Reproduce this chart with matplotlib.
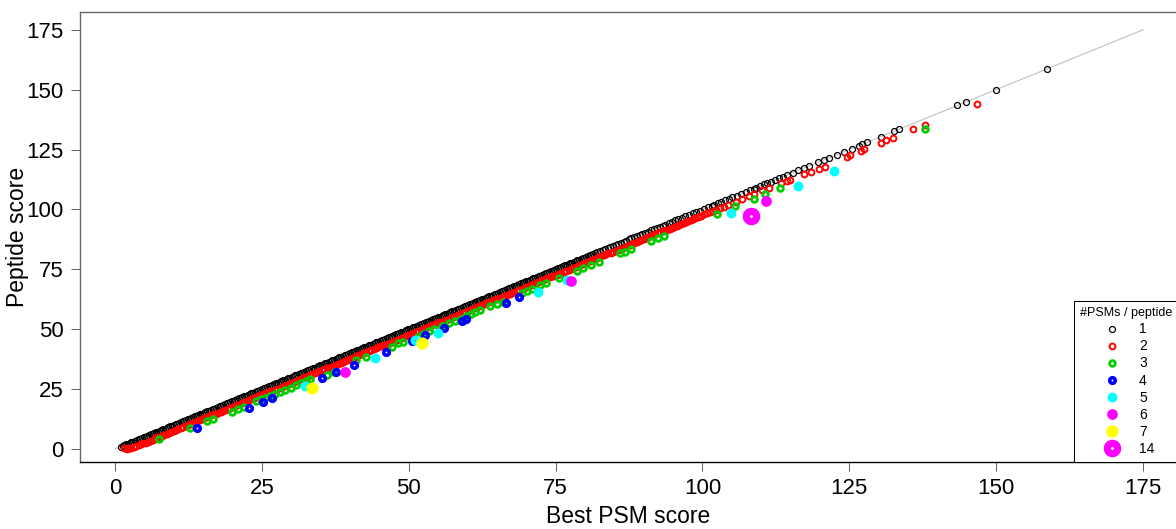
import matplotlib
matplotlib.use('Agg')
import matplotlib.pyplot as plt
from matplotlib.lines import Line2D

plt.rcParams['font.family'] = ['Liberation Sans', 'DejaVu Sans']

# peptides with a single PSM: peptide score is the best PSM score
psm1 = [
    1.0, 1.3, 1.6, 1.9, 2.2, 2.5, 2.8, 3.1, 3.4, 3.7,
    4.0, 4.3, 4.6, 4.9, 5.2, 5.5, 5.8, 6.1, 6.4, 6.7,
    7.0, 7.3, 7.6, 7.9, 8.2, 8.5, 8.8, 9.1, 9.4, 9.7,
    10.0, 10.3, 10.6, 10.9, 11.2, 11.5, 11.8, 12.1, 12.4, 12.7,
    13.0, 13.3, 13.6, 13.9, 14.2, 14.5, 14.8, 15.1, 15.4, 15.7,
    16.0, 16.3, 16.6, 16.9, 17.2, 17.5, 17.8, 18.1, 18.4, 18.7,
    19.0, 19.3, 19.6, 19.9, 20.2, 20.5, 20.8, 21.1, 21.4, 21.7,
    22.0, 22.3, 22.6, 22.9, 23.2, 23.5, 23.8, 24.1, 24.4, 24.7,
    25.0, 25.3, 25.6, 25.9, 26.2, 26.5, 26.8, 27.1, 27.4, 27.7,
    28.0, 28.3, 28.6, 28.9, 29.2, 29.5, 29.8, 30.1, 30.4, 30.7,
    31.0, 31.3, 31.6, 31.9, 32.2, 32.5, 32.8, 33.1, 33.4, 33.7,
    34.0, 34.3, 34.6, 34.9, 35.2, 35.5, 35.8, 36.1, 36.4, 36.7,
    37.0, 37.3, 37.6, 37.9, 38.2, 38.5, 38.8, 39.1, 39.4, 39.7,
    40.0, 40.3, 40.6, 40.9, 41.2, 41.5, 41.8, 42.1, 42.4, 42.7,
    43.0, 43.3, 43.6, 43.9, 44.2, 44.5, 44.8, 45.1, 45.4, 45.7,
    46.0, 46.3, 46.6, 46.9, 47.2, 47.5, 47.8, 48.1, 48.4, 48.7,
    49.0, 49.3, 49.6, 49.9, 50.2, 50.5, 50.8, 51.1, 51.4, 51.7,
    52.0, 52.3, 52.6, 52.9, 53.2, 53.5, 53.8, 54.1, 54.4, 54.7,
    55.0, 55.3, 55.6, 55.9, 56.2, 56.5, 56.8, 57.1, 57.4, 57.7,
    58.0, 58.3, 58.6, 58.9, 59.2, 59.5, 59.8, 60.1, 60.4, 60.7,
    61.0, 61.3, 61.6, 61.9, 62.2, 62.5, 62.8, 63.1, 63.4, 63.7,
    64.0, 64.3, 64.6, 64.9, 65.2, 65.5, 65.8, 66.1, 66.4, 66.7,
    67.0, 67.3, 67.6, 67.9, 68.2, 68.5, 68.8, 69.1, 69.4, 69.7,
    70.0, 70.3, 70.6, 70.9, 71.2, 71.5, 71.8, 72.1, 72.4, 72.7,
    73.0, 73.3, 73.6, 73.9, 74.2, 74.5, 74.8, 75.1, 75.4, 75.7,
    76.0, 76.3, 76.6, 76.9, 77.2, 77.5, 77.8, 78.1, 78.4, 78.7,
    79.0, 79.3, 79.6, 79.9, 80.2, 80.5, 80.8, 81.1, 81.4, 81.7,
    82.1, 82.5, 83.0, 83.4, 83.9, 84.3, 84.8, 85.2, 85.7, 86.1,
    86.6, 87.0, 87.5, 87.9, 88.4, 88.8, 89.3, 89.7, 90.2, 90.7,
    91.2, 91.7, 92.2, 92.7, 93.2, 93.7, 94.3, 94.8, 95.4, 95.9,
    96.5, 97.1, 97.7, 98.3, 98.9, 99.5, 100.2, 100.9, 101.6, 102.0,
    102.6, 103.2, 103.8, 104.5, 105.1, 105.8, 106.6, 107.4, 108.1, 108.7,
    109.1, 109.8, 110.4, 111.0, 111.6, 112.3, 113.1, 113.7, 114.4, 115.4,
    116.3, 117.3, 118.2, 119.6, 120.7, 121.5, 122.9, 124.1, 125.4, 126.6,
    127.1, 128.0, 130.4, 132.6, 133.5, 143.4, 144.9, 149.9, 158.6,
]

psm2_x = [
    1.6, 2.0, 2.4, 2.8, 3.2, 3.6, 4.0, 4.4, 4.8, 5.2, 5.6, 6.0, 6.4, 6.8,
    7.2, 7.6, 8.0, 8.4, 8.8, 9.2, 9.6, 10.0, 10.4, 10.8,
    11.2, 11.6, 12.0, 12.4, 12.8, 13.2, 13.6, 14.0, 14.4, 14.8,
    15.2, 15.6, 16.0, 16.4, 16.8, 17.2, 17.6, 18.0, 18.4, 18.8,
    19.2, 19.6, 20.0, 20.4, 20.8, 21.2, 21.6, 22.0, 22.4, 22.8,
    23.2, 23.6, 24.0, 24.4, 24.8, 25.2, 25.6, 26.0, 26.4, 26.8,
    27.2, 27.6, 28.0, 28.4, 28.8, 29.2, 29.6, 30.0, 30.4, 30.8,
    31.2, 31.6, 32.0, 32.4, 32.8, 33.2, 33.6, 34.0, 34.4, 34.8,
    35.2, 35.6, 36.0, 36.4, 36.8, 37.2, 37.6, 38.0, 38.4, 38.8,
    39.2, 39.6, 40.0, 40.4, 40.8, 41.2, 41.6, 42.0, 42.4, 42.8,
    43.2, 43.6, 44.0, 44.4, 44.8, 45.2, 45.6, 46.0, 46.4, 46.8,
    47.2, 47.6, 48.0, 48.4, 48.8, 49.2, 49.6, 50.0, 50.4, 50.8,
    51.2, 51.6, 52.0, 52.4, 52.8, 53.2, 53.6, 54.0, 54.4, 54.8,
    55.2, 55.6, 56.0, 56.4, 56.8, 57.2, 57.6, 58.0, 58.4, 58.8,
    59.2, 59.6, 60.0, 60.4, 60.8, 61.2, 61.6, 62.0, 62.4, 62.8,
    63.2, 63.6, 64.0, 64.4, 64.8, 65.2, 65.6, 66.0, 66.4, 66.8,
    67.2, 67.6, 68.0, 68.4, 68.8, 69.2, 69.6, 70.0, 70.4, 70.8,
    71.2, 71.6, 72.0, 72.4, 72.8, 73.2, 73.6, 74.0, 74.4, 74.8,
    75.2, 75.6, 76.0, 76.4, 76.8, 77.2, 77.6, 78.0, 78.4, 78.8,
    79.2, 79.6, 80.0, 80.4, 80.8, 81.2, 81.6, 82.0, 82.4, 82.8,
    83.2, 83.6, 84.0, 84.4, 84.8, 85.2, 85.6, 86.0, 86.4, 86.8,
    87.2, 87.6, 88.0, 88.4, 88.8, 89.2, 89.6, 90.0, 90.4, 90.8,
    91.2, 91.6, 92.0, 92.4, 92.8, 93.2, 93.6, 94.0, 94.4, 94.8,
    95.2, 95.6, 96.0, 96.4, 96.8, 97.2, 97.6, 98.0, 98.4, 98.8,
    99.3, 99.8, 100.3, 100.8, 101.3, 101.8, 102.3, 103.0, 103.7, 104.4,
    105.7, 106.8, 107.9, 108.8, 110.1, 111.3, 113.3, 114.3, 114.9, 117.3,
    118.5, 119.8, 120.8, 124.6, 125.1, 127.0, 127.5, 130.4, 131.2, 132.4,
    135.9, 137.8, 146.8,
]
psm2_y = [
    0.3, 0.2, 0.4, 0.6, 0.9, 1.2, 1.5, 1.9, 2.3, 2.7, 3.1, 3.5, 3.9, 4.4,
    4.8, 5.2, 5.6, 6.0, 6.4, 6.8, 7.2, 7.6, 8.0, 8.4,
    8.8, 9.2, 9.6, 10.0, 10.4, 10.8, 11.2, 11.6, 12.0, 12.4,
    12.8, 13.2, 13.6, 14.0, 14.4, 14.8, 15.2, 15.6, 16.0, 16.4,
    16.8, 17.2, 17.6, 18.0, 18.4, 18.8, 19.2, 19.6, 20.0, 20.4,
    20.8, 21.2, 21.6, 22.0, 22.4, 22.8, 23.2, 23.6, 24.0, 24.4,
    24.8, 25.2, 25.6, 26.0, 26.4, 26.8, 27.2, 27.6, 28.0, 28.4,
    28.8, 29.2, 29.6, 30.0, 30.4, 30.8, 31.2, 31.6, 32.0, 32.4,
    32.8, 33.2, 33.6, 34.0, 34.4, 34.8, 35.2, 35.6, 36.0, 36.4,
    36.8, 37.2, 37.6, 38.0, 38.4, 38.8, 39.2, 39.6, 40.0, 40.4,
    40.8, 41.2, 41.6, 42.0, 42.4, 42.8, 43.2, 43.6, 44.0, 44.4,
    44.8, 45.2, 45.6, 46.0, 46.4, 46.8, 47.2, 47.6, 48.0, 48.4,
    48.8, 49.2, 49.6, 50.0, 50.4, 50.8, 51.2, 51.6, 52.0, 52.4,
    52.8, 53.2, 53.6, 54.0, 54.4, 54.8, 55.2, 55.6, 56.0, 56.4,
    56.8, 57.2, 57.6, 58.0, 58.4, 58.8, 59.2, 59.6, 60.0, 60.4,
    60.8, 61.2, 61.6, 62.0, 62.4, 62.8, 63.2, 63.6, 64.0, 64.4,
    64.8, 65.2, 65.6, 66.0, 66.4, 66.8, 67.2, 67.6, 68.0, 68.4,
    68.8, 69.2, 69.6, 70.0, 70.4, 70.8, 71.2, 71.6, 72.0, 72.4,
    72.8, 73.2, 73.6, 74.0, 74.4, 74.8, 75.2, 75.6, 76.0, 76.4,
    76.8, 77.2, 77.6, 78.0, 78.4, 78.8, 79.2, 79.6, 80.0, 80.4,
    80.8, 81.2, 81.6, 82.0, 82.4, 82.8, 83.2, 83.6, 84.0, 84.4,
    84.8, 85.2, 85.6, 86.0, 86.4, 86.8, 87.2, 87.6, 88.0, 88.4,
    88.8, 89.2, 89.6, 90.0, 90.4, 90.8, 91.2, 91.6, 92.0, 92.4,
    92.8, 93.2, 93.6, 94.0, 94.4, 94.8, 95.2, 95.6, 96.0, 96.4,
    96.9, 97.4, 97.9, 98.4, 98.9, 99.4, 99.8, 100.5, 101.2, 101.9,
    103.2, 104.4, 105.5, 106.4, 107.9, 109.0, 110.9, 112.0, 112.4, 114.8,
    115.6, 116.9, 117.9, 122.0, 122.7, 124.5, 125.1, 127.6, 128.8, 130.0,
    133.4, 135.4, 144.1,
]

psm3_x = [
    7.5, 12.8, 15.7, 16.7, 19.9, 21.0, 22.0, 24.0, 24.8, 25.6, 26.4, 27.2, 28.1, 29.0, 29.9, 30.8, 31.7,
    32.5, 33.2, 36.0, 37.2, 41.1, 42.7, 47.1, 48.2, 49.1, 51.6, 52.5, 53.5, 54.3, 55.6, 56.9, 57.8, 58.9,
    59.8, 60.6, 61.3, 62.2, 63.9, 65.0, 66.1, 69.2, 70.2, 70.9, 72.3, 73.3, 75.6, 78.6, 79.7, 81.1, 82.4,
    85.9, 86.8, 87.8, 91.3, 92.5, 93.5, 102.5, 105.5, 108.8, 110.6, 113.2, 137.8,
]
psm3_y = [
    4.0, 8.9, 11.7, 12.5, 15.6, 16.6, 17.7, 19.9, 20.7, 21.4, 22.2, 23.0, 23.9, 24.8, 25.6, 26.6, 27.5,
    28.3, 29.2, 30.9, 32.3, 37.1, 38.5, 42.7, 44.1, 44.8, 46.9, 48.0, 49.4, 50.1, 51.4, 52.6, 53.5, 54.4,
    55.4, 56.3, 57.1, 58.0, 59.7, 60.5, 61.5, 65.2, 66.1, 66.9, 68.4, 69.2, 71.5, 74.4, 75.7, 76.8, 77.9,
    81.7, 82.3, 83.3, 86.9, 87.9, 88.9, 98.1, 101.4, 104.5, 106.4, 108.8, 133.4,
]

psm4_x = [14.0, 22.8, 25.2, 26.8, 35.3, 37.6, 40.6, 46.1, 50.6, 52.8, 56.0, 59.0, 59.8, 66.5, 68.8]
psm4_y = [8.9, 17.2, 19.7, 21.1, 29.8, 32.3, 35.1, 40.6, 45.2, 47.6, 50.4, 53.4, 54.1, 61.1, 63.3]

psm5_x = [32.3, 44.2, 51.1, 54.9, 72.0, 76.9, 104.9, 116.2, 122.3]
psm5_y = [26.3, 37.8, 45.5, 48.3, 65.7, 70.5, 98.6, 109.8, 116.0]

psm6_x = [39.1, 77.6, 110.8]
psm6_y = [32.0, 70.2, 103.6]

psm7_x = [33.5, 52.3]
psm7_y = [25.6, 44.4]

psm14_x = [108.2]
psm14_y = [97.2]

diag = [0, 175]
ticks = [0, 25, 50, 75, 100, 125, 150, 175]

groups = [
    (1, psm1, psm1),
    (2, psm2_x, psm2_y),
    (3, psm3_x, psm3_y),
    (4, psm4_x, psm4_y),
    (5, psm5_x, psm5_y),
    (6, psm6_x, psm6_y),
    (7, psm7_x, psm7_y),
    (14, psm14_x, psm14_y),
]

# R default palette, thicker ring for more PSMs
colors = {1: 'black', 2: '#FF0000', 3: '#00CD00', 4: '#0000FF', 5: '#00FFFF',
          6: '#FF00FF', 7: '#FFFF00', 14: '#FF00FF'}
styles = {1: (4.3, 0.9), 2: (4.2, 1.4), 3: (4.1, 2.0), 4: (4.0, 2.6), 5: (3.9, 3.2),
          6: (3.8, 3.9), 7: (4.3, 4.5), 14: (7.4, 5.2)}

fig = plt.figure(figsize=(11.76, 5.29), dpi=100)
ax = fig.add_axes([80 / 1176, 67 / 529, 1096 / 1176, 450 / 529])

ax.plot(diag, diag, color='#BEBEBE', lw=0.75, zorder=1)

handles = []
for n, xs, ys in groups:
    ms, mew = styles[n]
    ax.plot(xs, ys, 'o', ls='none', mfc='none', mec=colors[n], ms=ms, mew=mew, zorder=2)
    handles.append(Line2D([], [], marker='o', ls='none', mfc='none', mec=colors[n],
                          ms=ms, mew=mew, label=str(n)))

ax.set_xlim(-5.96, 180.6)
ax.set_ylim(-5.43, 182.4)
ax.set_xticks(ticks)
ax.set_yticks(ticks)
ax.tick_params(axis='both', labelsize=16, length=6.5, width=0.75, color='#666666')
ax.tick_params(axis='x', pad=5)
ax.tick_params(axis='y', pad=5.5)

for side in ['left', 'top']:
    ax.spines[side].set_color('#666666')
    ax.spines[side].set_linewidth(1.0)
ax.spines['bottom'].set_color('black')
ax.spines['bottom'].set_linewidth(1.0)
ax.spines['right'].set_visible(False)

ax.set_xlabel('Best PSM score', fontsize=16.5)
ax.set_ylabel('Peptide score', fontsize=16.5)
ax.xaxis.label.set_va('center')
ax.xaxis.set_label_coords(0.5, -0.122)
ax.yaxis.label.set_va('center')
ax.yaxis.set_label_coords(-0.0566, 0.5)

leg = ax.legend(handles=handles, title='#PSMs / peptide', loc='lower left',
                bbox_to_anchor=(994 / 1096, 0.0), bbox_transform=ax.transAxes,
                borderaxespad=0, borderpad=0.45, handlelength=1.95, handletextpad=0.97,
                labelspacing=0.22, fontsize=10, title_fontsize=9,
                fancybox=False, framealpha=1, edgecolor='black')
leg.get_frame().set_linewidth(0.75)

fig.savefig('out.png', dpi=100)
